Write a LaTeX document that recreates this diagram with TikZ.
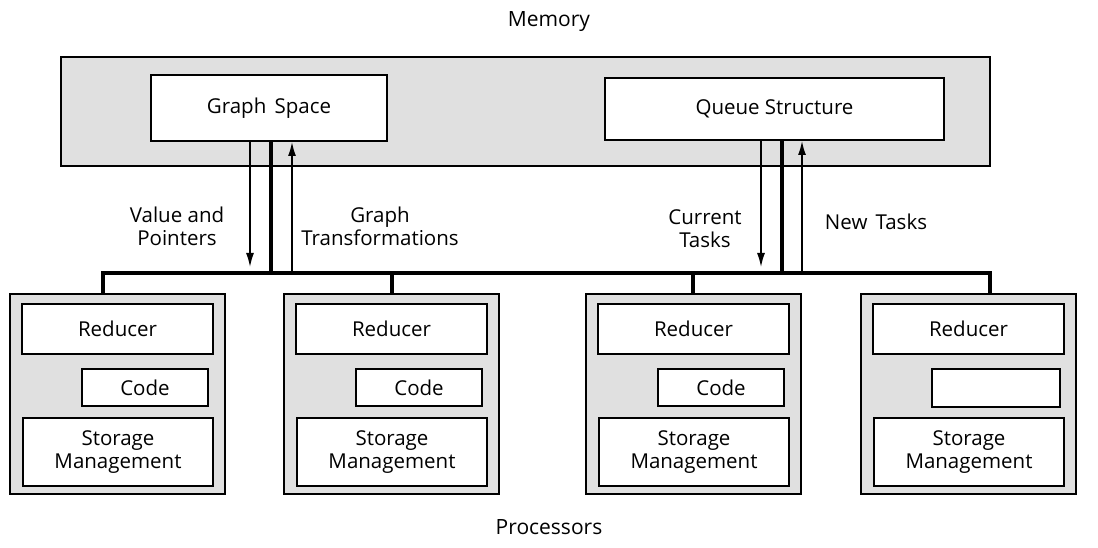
\documentclass[tikz,border=0pt]{standalone}
\usepackage{fontspec}
\setmainfont{Open Sans}
\usetikzlibrary{arrows.meta}
\begin{document}
\begin{tikzpicture}[x=1pt,y=-1pt,
  every node/.style={font=\fontsize{20.5}{23}\selectfont},
  shaded/.style={draw, line width=2pt, fill=black!12, inner sep=0pt},
  whitebox/.style={draw, line width=2pt, fill=white, inner sep=0pt, align=center},
  lbl/.style={align=center, inner sep=0pt},
  thin arrow/.style={line width=1.5pt, -{Latex[length=14pt,width=8pt]}},
  bus/.style={line width=3.8pt},
]
\useasboundingbox (0,0) rectangle (1098,548);
% titles
\node[lbl, font=\fontsize{21}{24}\selectfont] (memt) at (549,22) {Memory};
\node[lbl, font=\fontsize{21}{24}\selectfont] (proct) at (549,527) {Processors};
% memory
\node[shaded, minimum width=929, minimum height=109] (mem) at (525.5,111.5) {};
\node[whitebox, minimum width=236, minimum height=66] (gs) at (269,108) {Graph\hspace{0.4em}Space};
\node[whitebox, minimum width=339, minimum height=62] (qs) at (774.5,109) {Queue Structure};
% bus
\coordinate (busL) at (103,273);
\coordinate (busR) at (990,273);
\draw[bus, line cap=rect] (busL) -- (busR);
% graph space connectors
\coordinate (gA) at (250,267);
\coordinate (gB) at (271,273);
\coordinate (gC) at (292,273);
\draw[thin arrow] (gs.south -| gA) -- (gA);
\draw[bus] (gs.south -| gB) -- (gB);
\draw[thin arrow] (gC) -- (gs.south -| gC);
% queue connectors
\coordinate (qA) at (761,267);
\coordinate (qB) at (782,273);
\coordinate (qC) at (802,273);
\draw[thin arrow] (qs.south -| qA) -- (qA);
\draw[bus] (qs.south -| qB) -- (qB);
\draw[thin arrow] (qC) -- (qs.south -| qC);
% labels
\node[lbl] (l1) at (177,226) {Value and\\Pointers};
\node[lbl] (l2) at (380,226) {Graph\\Transformations};
\node[lbl] (l3) at (705,229) {Current\\Tasks};
\node[lbl] (l4) at (876,222) {New\hspace{0.4em}Tasks};
% processors
\foreach \xo/\i/\dx in {9/1/103, 283/2/392, 585/3/693, 860/4/990} {
  \node[shaded, minimum width=215, minimum height=200, anchor=north west] (p\i) at (\xo,293) {};
  \node[whitebox, minimum width=191, minimum height=50, anchor=north west] (r\i) at (\xo+12,303) {Reducer};
  \node[whitebox, minimum width=190, minimum height=68, anchor=north west] (s\i) at (\xo+13,417) {Storage\\Management};
  \coordinate (d\i) at (\dx,273);
  \draw[bus] (d\i) -- (p\i.north -| d\i);
}
\foreach \xo/\i in {9/1, 283/2, 585/3} {
  \node[whitebox, minimum width=126, minimum height=37, anchor=north west] (c\i) at (\xo+72,368) {Code};
}
\node[whitebox, minimum width=128, minimum height=38, anchor=north west] (c4) at (931,368) {};
\end{tikzpicture}
\end{document}
